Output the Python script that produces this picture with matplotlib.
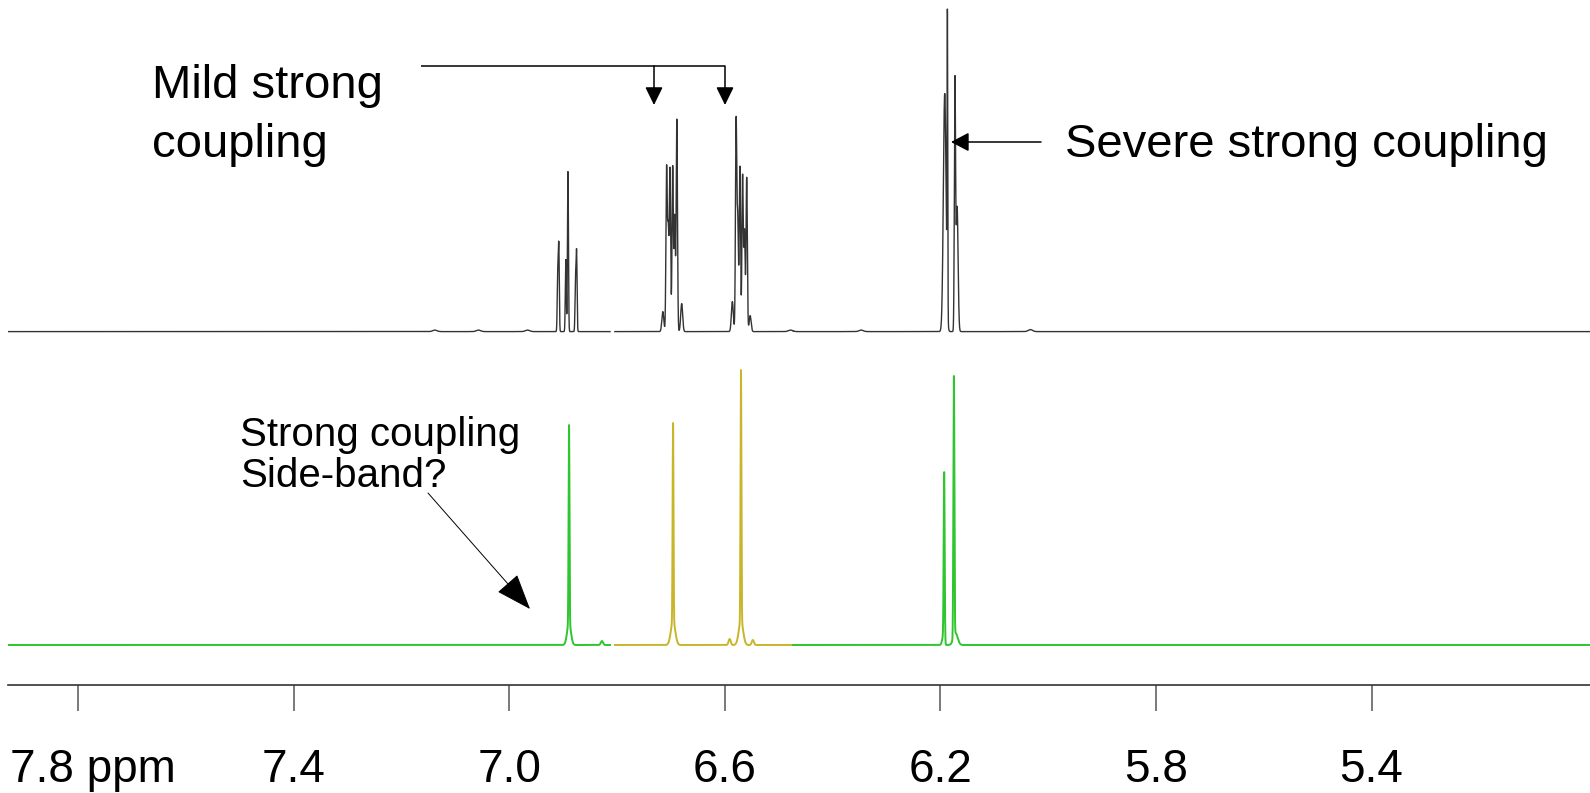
import numpy as np
import matplotlib
matplotlib.use("Agg")
import matplotlib.pyplot as plt
from matplotlib.patches import FancyArrowPatch
from matplotlib.transforms import ScaledTranslation

plt.rcParams['font.family'] = ['Liberation Sans', 'DejaVu Sans']

# ---------------- data (ppm, intensity in arbitrary units, line width in ppm) -------------
TOP_PPM = [6.910, 6.908, 6.895, 6.891, 6.877, 6.875,
           6.715, 6.708, 6.705, 6.7017, 6.6967, 6.693, 6.689, 6.680,
           6.586, 6.579, 6.576, 6.572, 6.567, 6.5635, 6.5594, 6.553,
           6.192, 6.187, 6.173, 6.169,
           7.138, 7.057, 6.966, 6.478, 6.347, 6.033]
TOP_INT = [55, 85, 72, 160, 50, 78,
           20, 162, 100, 162, 165, 115, 212, 28,
           30, 210, 110, 165, 156, 100, 154, 16,
           238, 290, 245, 125,
           1.5, 1.5, 1.5, 1.5, 1.5, 2]
TOP_WID = [0.0009, 0.0009, 0.0009, 0.0009, 0.0009, 0.0009,
           0.0018, 0.0012, 0.0012, 0.0012, 0.0012, 0.0012, 0.0012, 0.0018,
           0.0018, 0.0012, 0.0012, 0.0012, 0.0012, 0.0012, 0.0012, 0.0018,
           0.0025, 0.0006, 0.0011, 0.0018,
           0.004, 0.004, 0.004, 0.004, 0.004, 0.004]

BOT_PPM = [6.889, 6.889, 6.828,
           6.696, 6.696, 6.570, 6.570, 6.591, 6.548,
           6.193, 6.175, 6.172, 6.195]
BOT_INT = [198, 22, 4,
           198, 24, 251, 24, 6, 5,
           168, 260, 12, 8]
BOT_WID = [0.0008, 0.0035, 0.002,
           0.0008, 0.004, 0.0008, 0.004, 0.002, 0.002,
           0.0009, 0.0009, 0.004, 0.002]

# colour segments of the lower trace (ppm from, ppm to)
SEG_A = (7.93, 6.813)
SEG_B = (6.804, 6.473)
SEG_C = (6.473, 4.99)

TICKS = [7.8, 7.4, 7.0, 6.6, 6.2, 5.8, 5.4]
TICK_LABELS = ['7.8 ppm', '7.4', '7.0', '6.6', '6.2', '5.8', '5.4']

# ---------------- layout constants -------------
W, H = 1590, 793
AX_BOTTOM_PX = 684.5
TOP_OFFSET = AX_BOTTOM_PX - 331.6
BOT_OFFSET = AX_BOTTOM_PX - 645.0
XLIM = (7.8 + 70 / 539.0, 7.8 - 1512 / 539.0)

GREEN = '#2ec52e'
YELLOW = '#c9b52a'
DARK = '#333333'


def spectrum(x, ppm, inten, wid):
    y = np.zeros_like(x)
    for c, h, s in zip(ppm, inten, wid):
        y += h * np.exp(-0.5 * ((x - c) / s) ** 2)
    return y


fig = plt.figure(figsize=(W / 100, H / 100), dpi=100)
ax = fig.add_axes([8 / W, (H - AX_BOTTOM_PX) / H, (W - 8) / W, AX_BOTTOM_PX / H])

x = np.linspace(XLIM[0], XLIM[1], 60000)
top = spectrum(x, TOP_PPM, TOP_INT, TOP_WID) + TOP_OFFSET
bot = spectrum(x, BOT_PPM, BOT_INT, BOT_WID) + BOT_OFFSET

for (a, b), col in [(SEG_A, GREEN), (SEG_B, YELLOW), (SEG_C, GREEN)]:
    m = (x <= a) & (x >= b)
    ax.plot(x[m], bot[m], color=col, lw=1.4)
    ax.plot(x[m], top[m], color=DARK, lw=1.0)

ax.set_xlim(*XLIM)
ax.set_ylim(0, AX_BOTTOM_PX)
for s in ['top', 'left', 'right']:
    ax.spines[s].set_visible(False)
ax.spines['bottom'].set_color('#333333')
ax.spines['bottom'].set_linewidth(1.2)
ax.set_yticks([])
ax.set_xticks(TICKS)
ax.set_xticklabels(TICK_LABELS)
ax.tick_params(axis='x', direction='out', length=18.5, width=1.1, color='#555555',
               labelsize=33, pad=27)
ax.patch.set_alpha(0)
lab0 = ax.get_xticklabels()[0]
lab0.set_transform(lab0.get_transform() + ScaledTranslation(0.15, 0, fig.dpi_scale_trans))

# ---------------- annotations in pixel coordinates -------------
ov = fig.add_axes([0, 0, 1, 1])
ov.set_xlim(0, W)
ov.set_ylim(H, 0)
ov.axis('off')
ov.patch.set_alpha(0)

ov.text(152, 98, 'Mild strong', fontsize=34, va='baseline', ha='left')
ov.text(152, 157, 'coupling', fontsize=34, va='baseline', ha='left')
ov.text(1065, 157, 'Severe strong coupling', fontsize=34, va='baseline', ha='left')
ov.text(240, 446, 'Strong coupling', fontsize=29, va='baseline', ha='left')
ov.text(240, 487, 'Side-band?', fontsize=29, va='baseline', ha='left')

ov.plot([421, 725], [66, 66], color='black', lw=1.1, solid_capstyle='butt')
for xa in (654, 725):
    ov.add_patch(FancyArrowPatch((xa, 66), (xa, 105),
                                 arrowstyle='-|>,head_length=11,head_width=5.4',
                                 color='black', lw=1.1, shrinkA=0, shrinkB=0))
ov.add_patch(FancyArrowPatch((1041, 142), (951, 142),
                             arrowstyle='-|>,head_length=11,head_width=5.8',
                             color='black', lw=1.1, shrinkA=0, shrinkB=0))
ov.add_patch(FancyArrowPatch((428, 493), (530, 609),
                             arrowstyle='-|>,head_length=23,head_width=8.6',
                             color='black', lw=0.7, shrinkA=0, shrinkB=0))

fig.savefig('out.png', dpi=100)
